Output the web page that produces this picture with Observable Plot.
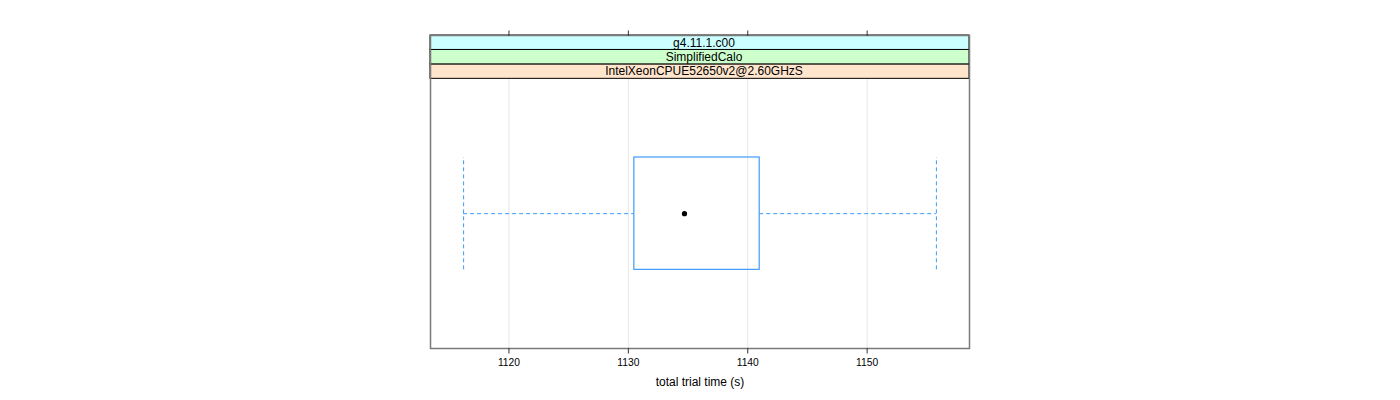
<!DOCTYPE html>
<html>
<head>
<meta charset="utf-8">
<script src="https://cdn.jsdelivr.net/npm/d3@7"></script>
<script src="https://cdn.jsdelivr.net/npm/@observablehq/plot@0.6"></script>
<style>
  html, body { margin: 0; padding: 0; background: #ffffff; }
  #chart svg { display: block; }
</style>
</head>
<body>
<div id="chart"></div>
<script>
// ---- data ----
const stripLabels = ["IntelXeonCPUE52650v2@2.60GHzS", "SimplifiedCalo", "g4.11.1.c00"]; // bottom to top
const stripColors = ["#ffe5cc", "#ccffcc", "#ccffff"];
const categories = ["IntelXeonCPUE52650v2@2.60GHzS"];
const whiskerLow = [1116.2];
const quartile1 = [1130.5];
const medians = [1134.7];
const quartile3 = [1141.0];
const whiskerHigh = [1155.8];
const xTicks = [1120, 1130, 1140, 1150];
const xTitle = "total trial time (s)";

// ---- derived tables ----
const boxes = categories.map((c, i) => ({
  cat: i + 1, lo: whiskerLow[i], q1: quartile1[i], med: medians[i], q3: quartile3[i], hi: whiskerHigh[i]
}));
const allVals = boxes.flatMap(b => [b.lo, b.hi]);
const xmin0 = d3.min(allVals), xmax0 = d3.max(allVals);
const pad = 0.07 * (xmax0 - xmin0);
const xDomain = [xmin0 - pad, xmax0 + pad];

// y: factor axis limits like lattice (0.4 .. n+0.6), strips stacked above
const yLo = 0.4, yHi = categories.length + 0.6;
const panelPx = 269.7, stripPx = 14.45;
const stripUnit = stripPx * (yHi - yLo) / panelPx;
const yTop = yHi + stripLabels.length * stripUnit;
const halfBox = 0.25;

const strips = stripLabels.map((label, i) => ({
  label,
  fill: stripColors[i],
  y1: yHi + i * stripUnit,
  y2: yHi + (i + 1) * stripUnit
}));

const blue = "#3d9bff";
const dash = "4,3";

const svg = Plot.plot({
  width: 1400,
  height: 400,
  marginLeft: 430,
  marginRight: 431,
  marginTop: 35,
  marginBottom: 52,
  style: { fontFamily: "'Liberation Sans', Arial, Helvetica, sans-serif", fontSize: "10.3px", background: "#ffffff", color: "#000" },
  x: { domain: xDomain },
  y: { domain: [yLo, yTop], axis: null },
  marks: [
    Plot.ruleX(xTicks, { x: d => d, y1: yLo, y2: yHi, stroke: "#e6e6e6", strokeWidth: 1 }),
    Plot.rect(strips, { x1: () => xDomain[0], x2: () => xDomain[1], y1: "y1", y2: "y2", fill: "fill", stroke: "#000", strokeWidth: 1 }),
    Plot.text(strips, { x: () => (xDomain[0] + xDomain[1]) / 2, y: d => (d.y1 + d.y2) / 2, text: "label", fontSize: 12, dx: 4, fill: "#000", ariaLabel: "strip-text" }),
    Plot.ruleY(boxes, { x1: "lo", x2: "q1", y: "cat", stroke: blue, strokeDasharray: dash }),
    Plot.ruleY(boxes, { x1: "q3", x2: "hi", y: "cat", stroke: blue, strokeDasharray: dash }),
    Plot.ruleX(boxes, { x: "lo", y1: d => d.cat - halfBox, y2: d => d.cat + halfBox, stroke: blue, strokeDasharray: dash }),
    Plot.ruleX(boxes, { x: "hi", y1: d => d.cat - halfBox, y2: d => d.cat + halfBox, stroke: blue, strokeDasharray: dash }),
    Plot.rect(boxes, { x1: "q1", x2: "q3", y1: d => d.cat - halfBox, y2: d => d.cat + halfBox, fill: "none", stroke: blue, strokeWidth: 1.2 }),
    Plot.dot(boxes, { x: "med", y: "cat", r: 2.6, fill: "#000", stroke: "none" }),
    Plot.frame({ stroke: "#7a7a7a", strokeWidth: 1.5 }),
    Plot.axisX({ anchor: "bottom", ticks: xTicks, tickSize: 5.5, tickPadding: 5, tickFormat: d3.format("d"), label: null, stroke: "#333" }),
    Plot.axisX({ anchor: "top", ticks: xTicks, tickSize: 5.5, tickFormat: () => "", label: null, stroke: "#333" }),
    Plot.text([xTitle], { frameAnchor: "bottom", dy: 37, text: d => d, fontSize: 12, fill: "#000", ariaLabel: "x-title" })
  ]
});

d3.select(svg).selectAll('g[aria-label="strip-text"] text').attr("letter-spacing", "0.8px");
d3.select(svg).selectAll('g[aria-label="x-title"] text').attr("letter-spacing", "0.3px");
document.getElementById("chart").appendChild(svg);
</script>
</body>
</html>
